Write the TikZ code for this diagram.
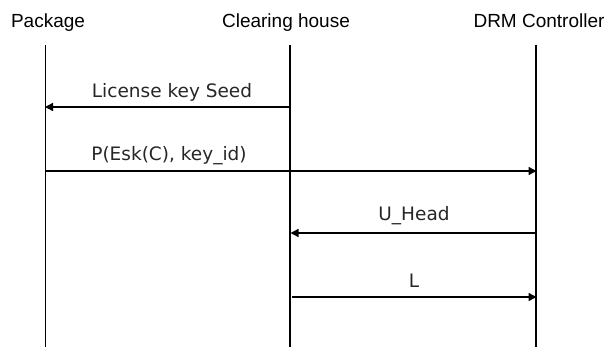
\documentclass[tikz,border=0pt]{standalone}
\usepackage{fontspec}
\setmainfont{Liberation Sans}
\newfontfamily\msgfont{DejaVu Sans}
\usetikzlibrary{arrows.meta}
\begin{document}
\begin{tikzpicture}[x=1pt,y=-1pt,
  actor/.style={font=\fontsize{19}{22}\selectfont, anchor=base, inner sep=0pt},
  lifeline/.style={line width=1.8pt},
  msg/.style={line width=1.4pt, -{Triangle[length=8pt,width=8pt]}, shorten >=-0.5pt},
  msglabel/.style={font=\msgfont\fontsize{18.5}{22}\selectfont, text=black!85, anchor=base, inner sep=0pt}]
  \useasboundingbox (0,0) rectangle (612,347);
  % participants
  \node[actor] (pkg) at (48,28) {Package};
  \node[actor] (ch)  at (286,28) {Clearing house};
  \node[actor] (drm) at (539,28) {DRM Controller};
  % lifelines
  \coordinate (pkgT) at (45.5,45);  \coordinate (pkgB) at (45.5,347);
  \coordinate (chT)  at (290,45);   \coordinate (chB)  at (290,347);
  \coordinate (drmT) at (536,45);   \coordinate (drmB) at (536,347);
  \draw[lifeline] (pkgT) -- (pkgB);
  \draw[lifeline] (chT) -- (chB);
  \draw[lifeline] (drmT) -- (drmB);
  % message endpoints
  \coordinate (m1a) at (290,107); \coordinate (m1b) at (45.5,107);
  \coordinate (m2a) at (45.5,171); \coordinate (m2b) at (536,171);
  \coordinate (m3a) at (536,233); \coordinate (m3b) at (291,233);
  \coordinate (m4a) at (292,297); \coordinate (m4b) at (536,297);
  % messages
  \draw[msg] (m1a) -- (m1b);
  \draw[msg] (m2a) -- (m2b);
  \draw[msg] (m3a) -- (m3b);
  \draw[msg] (m4a) -- (m4b);
  \node[msglabel] (l1) at (172,98) {License key Seed};
  \node[msglabel] (l2) at (169,161) {P(Esk(C), key\_id)};
  \node[msglabel] (l3) at (414,221) {U\_Head};
  \node[msglabel] (l4) at (414,287) {L};
\end{tikzpicture}
\end{document}
